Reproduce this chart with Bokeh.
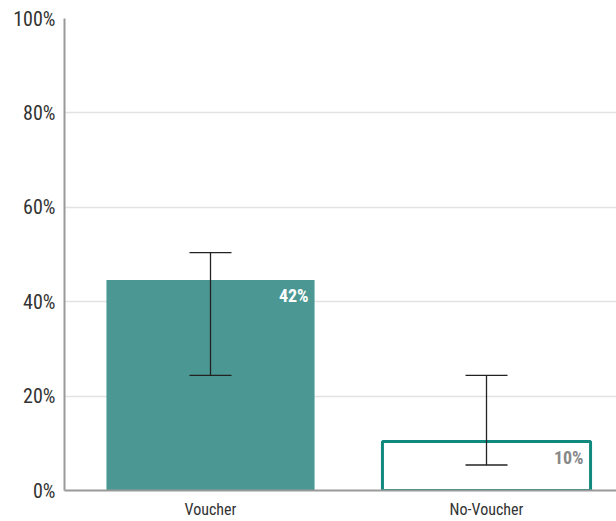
from bokeh.plotting import figure
from bokeh.models import ColumnDataSource, Range1d, FixedTicker, Whisker, TeeHead
from bokeh.core.properties import value
from bokeh.embed import file_html
from bokeh.resources import INLINE

categories = ["Voucher", "No-Voucher"]
values = [44.6, 10.4]
err_lower = [24.4, 5.4]
err_upper = [50.4, 24.4]
bar_labels = ["42%", "10%"]
y_ticks = [0, 20, 40, 60, 80, 100]

FONT = "'Roboto Condensed', 'Liberation Sans Narrow', 'DejaVu Sans Condensed', Roboto, sans-serif"
xs = [i + 0.5 for i in range(len(categories))]

p = figure(width=616, height=521, output_backend="svg", toolbar_location=None,
           x_range=Range1d(-0.029, 1.971), y_range=Range1d(0, 100),
           min_border_left=64, min_border_right=0, min_border_top=18, min_border_bottom=31)
p.outline_line_color = None
p.background_fill_color = "white"

src = ColumnDataSource(dict(x=xs, top=values, lo=err_lower, hi=err_upper,
                            lab=bar_labels, cat=categories))

# Voucher: filled bar
p.vbar(x=[xs[0]], top=[values[0]], width=0.754, bottom=0,
       fill_color="#4b9793", line_color=None)
# No-Voucher: outlined bar
p.vbar(x=[xs[1]], top=[values[1]], width=0.754, bottom=0,
       fill_color="white", line_color="#12897f", line_width=3)

w = Whisker(source=src, base="x", lower="lo", upper="hi", dimension="height",
            line_color="#222222", line_width=1.3, level="annotation",
            upper_head=TeeHead(size=42, line_color="#222222", line_width=1.3),
            lower_head=TeeHead(size=42, line_color="#222222", line_width=1.3))
p.add_layout(w)

p.text(x=[xs[0] + 0.377], y=[values[0]], text=[bar_labels[0]],
       text_font=value(FONT), text_font_style="bold", text_font_size="18px",
       text_color="white", text_align="right", text_baseline="top",
       x_offset=-6, y_offset=5)
p.text(x=[xs[1] + 0.377], y=[values[1]], text=[bar_labels[1]],
       text_font=value(FONT), text_font_style="bold", text_font_size="18px",
       text_color="#888888", text_align="right", text_baseline="top",
       x_offset=-7, y_offset=6)

p.xaxis.ticker = FixedTicker(ticks=xs)
p.xaxis.major_label_overrides = {x: c for x, c in zip(xs, categories)}
p.yaxis.ticker = FixedTicker(ticks=y_ticks)
p.yaxis.major_label_overrides = {t: f"{t}%" for t in y_ticks}

for ax in (p.xaxis, p.yaxis):
    ax.axis_line_color = "#999999"
    ax.axis_line_width = 2
    ax.major_tick_line_color = None
    ax.minor_tick_line_color = None
    ax.major_tick_out = 0
    ax.major_tick_in = 0
    ax.minor_tick_out = 0
    ax.major_label_text_font = FONT
    ax.major_label_text_color = "#333333"

p.yaxis.major_label_text_font_size = "20px"
p.yaxis.major_label_standoff = 9
p.xaxis.major_label_text_font_size = "16px"
p.xaxis.major_label_standoff = 9

p.xgrid.grid_line_color = None
p.ygrid.grid_line_color = "#e2e2e2"
p.ygrid.grid_line_width = 1.5

open("out.html", "w").write(file_html(p, INLINE))
